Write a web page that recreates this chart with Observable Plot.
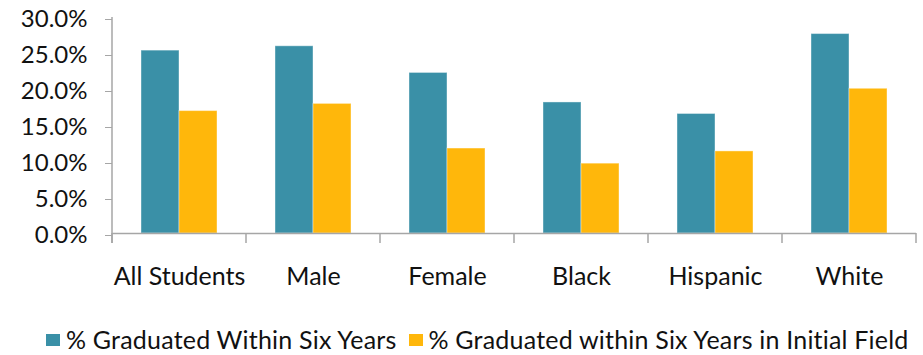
<!DOCTYPE html>
<html>
<head>
<meta charset="utf-8">
<script src="https://cdn.jsdelivr.net/npm/d3@7"></script>
<script src="https://cdn.jsdelivr.net/npm/@observablehq/plot@0.6"></script>
<style>
  html, body { margin: 0; padding: 0; background: #fff; }
  #wrap { position: relative; width: 923px; height: 355px; overflow: hidden; font-family: Lato, sans-serif; }
  #legend { position: absolute; top: 300px; left: 0; width: 923px; height: 25px; padding-top: 27px; padding-left: 46px;
            box-sizing: content-box; display: flex; align-items: center; font-size: 25px; line-height: 25px; color: #111;
            white-space: nowrap; letter-spacing: 0.2px; }
  .sw { display: inline-block; width: 14px; height: 12px; margin-right: 6px; }
  .item { display: flex; align-items: center; }
</style>
</head>
<body>
<div id="wrap">
  <div id="chart"></div>
  <div id="legend"></div>
</div>
<script>
const categories = ["All Students", "Male", "Female", "Black", "Hispanic", "White"];
const series = ["% Graduated Within Six Years", "% Graduated within Six Years in Initial Field"];
const within6 = [25.4, 26.0, 22.3, 18.2, 16.6, 27.7];
const initialField = [17.0, 18.0, 11.8, 9.7, 11.4, 20.1];
const colors = ["#3A90A7", "#FFB70B"];
const yTicks = [0, 5, 10, 15, 20, 25, 30];

const data = [];
categories.forEach((c, i) => {
  data.push({category: c, series: series[0], value: within6[i]});
  data.push({category: c, series: series[1], value: initialField[i]});
});

const chart = Plot.plot({
  width: 923,
  height: 300,
  marginTop: 17,
  marginBottom: 67,
  marginLeft: 110,
  marginRight: 5,
  fx: {domain: categories, padding: 0, label: null},
  x: {domain: series, paddingInner: 0, paddingOuter: 0.75, axis: null},
  y: {domain: [0, 30]},
  color: {domain: series, range: colors},
  style: {fontFamily: "Lato, sans-serif", color: "#111", background: "#fff"},
  marks: [
    Plot.barY(data, {fx: "category", x: "series", y: "value", fill: "series",
      stroke: "#ffffff", strokeOpacity: 0.4, strokeWidth: 1}),
    Plot.ruleY([0], {stroke: "#a6a6a6", strokeWidth: 1.5}),
    Plot.axisY({ticks: yTicks, tickFormat: d => d.toFixed(1) + "%", tickSize: 7, tickPadding: 18,
      fontSize: 24, stroke: "#a6a6a6", fill: "#111", label: null, dy: 2}),
    Plot.axisFx({anchor: "bottom", tickSize: 0, tickPadding: 34, fontSize: 25, fill: "#111", label: null})
  ]
});

document.getElementById("chart").appendChild(chart);

// boundary ticks and y-axis line derived from the chart's scales
const fx = chart.scale("fx");
const ys = chart.scale("y");
const y0 = ys.apply(0), yTop = ys.apply(30);
const bw = fx.bandwidth ?? fx.step;
const bounds = fx.domain.map(d => fx.apply(d));
bounds.push(bounds[bounds.length - 1] + bw);
const g = d3.select(chart).append("g").attr("stroke", "#a6a6a6").attr("stroke-width", 1.5);
g.selectAll("line.b").data(bounds).join("line")
  .attr("x1", d => d).attr("x2", d => d).attr("y1", y0).attr("y2", y0 + 10);
g.append("line").attr("x1", bounds[0]).attr("x2", bounds[0]).attr("y1", yTop).attr("y2", y0 + 10);

// legend
const legend = d3.select("#legend");
series.forEach((s, i) => {
  const it = legend.append("div").attr("class", "item").style("margin-left", i ? "12px" : "0px");
  it.append("span").attr("class", "sw").style("background", colors[i]);
  it.append("span").text(s);
});
</script>
</body>
</html>
